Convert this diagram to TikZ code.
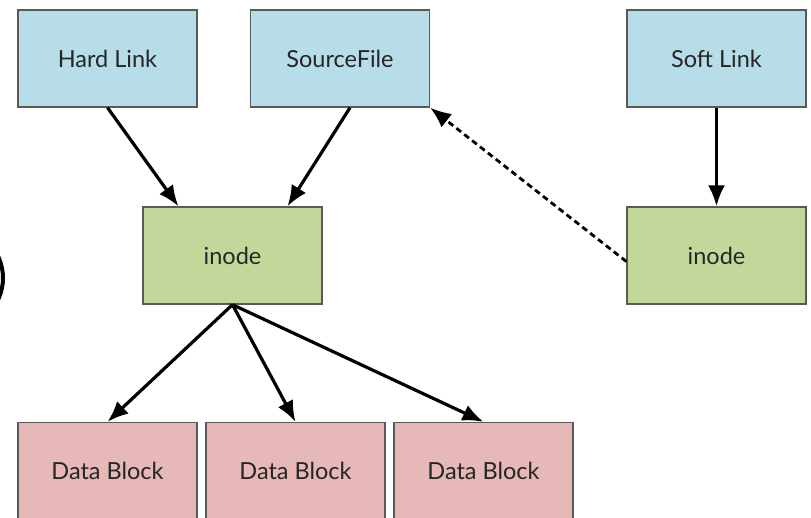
\documentclass[tikz,border=0pt]{standalone}
\usepackage{fontspec}
\setmainfont{Lato}
\usetikzlibrary{arrows.meta,positioning}

\definecolor{linkblue}{HTML}{B7DDE8}
\definecolor{inodegreen}{HTML}{C4D79B}
\definecolor{blockpink}{HTML}{E6B8B7}

\begin{document}
\begin{tikzpicture}[x=1pt, y=-1pt,
    every node/.style={font=\fontsize{23.5}{28}\selectfont, text=black!85},
    fbox/.style={draw=black!65, line width=1.3pt, minimum width=179pt, minimum height=97pt, inner sep=0pt},
    arr/.style={line width=3.2pt, -{Latex[length=21pt, width=17pt]}}]
  \useasboundingbox (0,0) rectangle (811,517);

  % === partial ring at the left edge ===
  \begin{scope}
    \clip (0,0) rectangle (811,517);
    \draw[line width=4pt] (-47,278) circle[radius=50pt];
  \end{scope}

  % === Top row: links and source ===
  \node[fbox, fill=linkblue] (hard)   at (107.5,58.5) {Hard Link};
  \node[fbox, fill=linkblue] (source) at (340,58.5)   {SourceFile};
  \node[fbox, fill=linkblue] (soft)   at (716.5,58.5) {Soft Link};

  % === Middle row: inodes ===
  \node[fbox, fill=inodegreen] (inodeL) at (232.5,255.5) {inode};
  \node[fbox, fill=inodegreen] (inodeR) at (716.5,255.5) {inode};

  % === Bottom row: data blocks (cut off by the frame) ===
  \node[fbox, fill=blockpink] (data1) at (107.5,471) {Data Block};
  \node[fbox, fill=blockpink] (data2) at (295.5,471) {Data Block};
  \node[fbox, fill=blockpink] (data3) at (483.5,471) {Data Block};

  % hard link and source share one inode
  \draw[arr] (hard.south) -- ([xshift=-54pt]inodeL.north);
  \draw[arr] ([xshift=10pt]source.south) -- ([xshift=55pt]inodeL.north);

  % inode -> blocks
  \foreach \b in {data1,data2,data3}{
    \draw[arr] (inodeL.south) -- (\b.north);
  }

  % soft link has its own inode, pointing back to the path
  \draw[arr] (soft.south) -- (inodeR.north);
  \draw[line width=2.8pt, dash pattern=on 6pt off 4pt, -{Latex[length=21pt, width=17pt]}]
    ([yshift=-6pt]inodeR.west) -- (source.south east);
\end{tikzpicture}
\end{document}
